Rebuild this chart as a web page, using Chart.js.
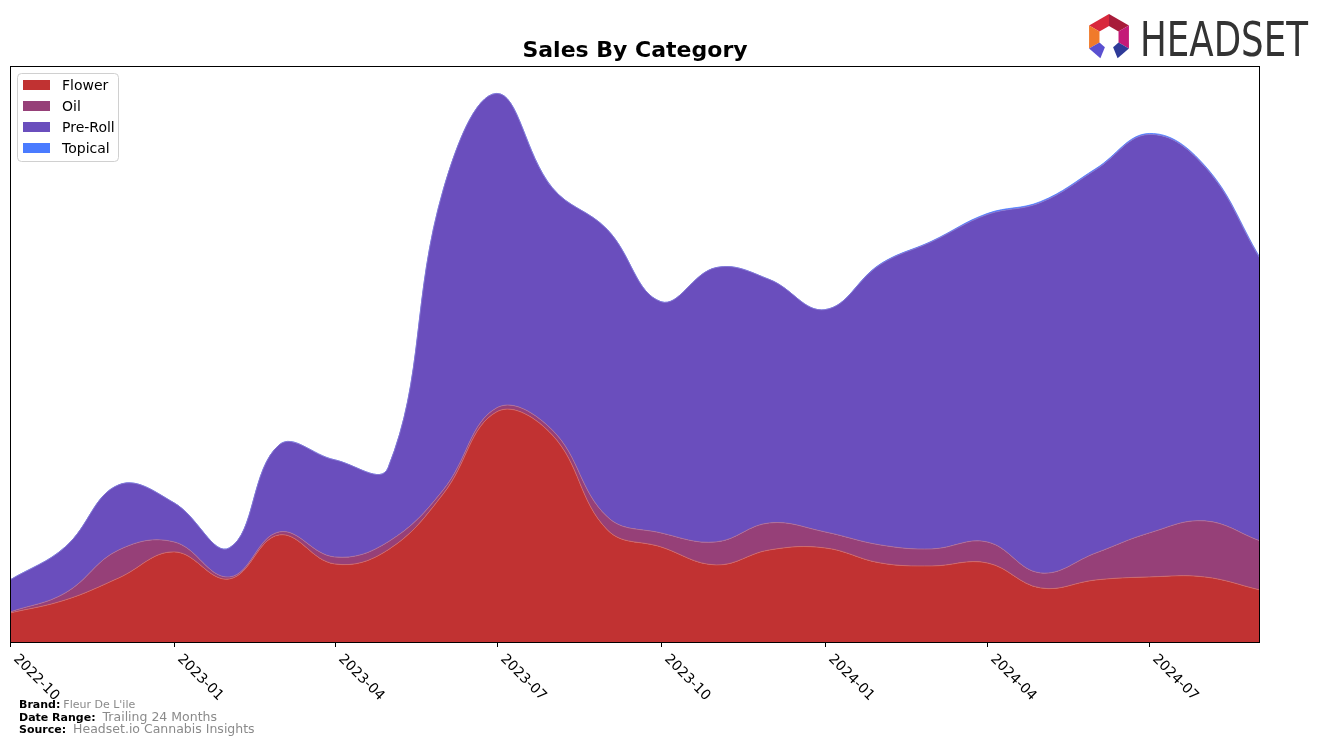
<!DOCTYPE html>
<html>
<head>
<meta charset="utf-8">
<script src="https://cdn.jsdelivr.net/npm/chart.js@4.4.0/dist/chart.umd.min.js"></script>
<style>
  html, body { margin: 0; padding: 0; background: #fff; }
  #wrap { width: 1324px; height: 745px; }
</style>
</head>
<body>
<div id="wrap"><canvas id="chart" width="1324" height="745"></canvas></div>
<script>
const months = [
  "2022-10", "2022-11", "2022-12", "2023-01", "2023-02", "2023-03",
  "2023-04", "2023-05", "2023-06", "2023-07", "2023-08", "2023-09",
  "2023-10", "2023-11", "2023-12", "2024-01", "2024-02", "2024-03",
  "2024-04", "2024-05", "2024-06", "2024-07", "2024-08", "2024-09",
];
const flower = [29, 42, 64, 90, 63, 107, 78, 92, 148, 230, 207, 112, 95, 77, 92, 94, 79, 76, 79, 54, 62, 65, 65, 52];
const oil = [1, 7, 28, 10, 2, 3, 7, 8, 4, 4, 5, 13, 14, 23, 27, 16, 18, 17, 21, 15, 27, 44, 56, 49];
const preRoll = [32, 46, 65, 39, 29, 87, 97, 74, 300, 314, 242, 287, 231, 274, 243, 222, 280, 307, 327, 370, 383, 398, 354, 282];
const topical = [0, 0, 0, 0, 0, 0, 0, 0, 0, 0, 0, 0, 0, 0, 0, 0, 0.5, 0.5, 1, 1, 1, 1, 1, 1];
const tickLabels = ["2022-10", "2023-01", "2023-04", "2023-07", "2023-10", "2024-01", "2024-04", "2024-07"];

const seriesNames = ["Flower", "Oil", "Pre-Roll", "Topical"];
const seriesColors = ["#c13232", "#964078", "#6a4ebd", "#4a7bff"];
const seriesEdges = ["#d06a6a", "#b07098", "#8a78d0", "#4a7bff"];

// month string -> day number, so the x axis spaces months like a date axis
const dayOf = (m) => {
  const [y, mo] = m.split("-").map(Number);
  return Date.UTC(y, mo - 1, 1) / 86400000;
};

const allSeries = [flower, oil, preRoll, topical];
const totals = months.map((_, i) => allSeries.reduce((s, arr) => s + arr[i], 0));

const datasets = allSeries.map((arr, k) => ({
  label: seriesNames[k],
  data: arr.map((v, i) => ({ x: dayOf(months[i]), y: v })),
  backgroundColor: seriesColors[k],
  borderColor: seriesEdges[k],
  borderWidth: 0.8,
  fill: k === 0 ? "origin" : "-1",
  pointRadius: 0,
  tension: 0.4,
}));

const FONT = '"DejaVu Sans", sans-serif';

const decor = {
  id: "decor",
  beforeDraw(chart) {
    const c = chart.ctx;
    c.save();
    c.fillStyle = "#fff";
    c.fillRect(0, 0, chart.width, chart.height);
    c.restore();
  },
  afterDraw(chart) {
    const c = chart.ctx;
    const a = chart.chartArea;
    const xs = chart.scales.x;
    c.save();

    // frame
    c.strokeStyle = "#000";
    c.lineWidth = 1;
    c.strokeRect(a.left + 0.5, a.top + 0.5, a.right - a.left - 1, a.bottom - a.top);

    // x ticks + rotated labels
    c.font = "14px " + FONT;
    c.fillStyle = "#000";
    tickLabels.forEach((t) => {
      const px = Math.round(xs.getPixelForValue(dayOf(t))) + 0.5;
      c.beginPath();
      c.moveTo(px, a.bottom);
      c.lineTo(px, a.bottom + 5);
      c.stroke();
      c.save();
      c.translate(px + 5, a.bottom + 15);
      c.rotate(Math.PI / 4);
      c.textAlign = "left";
      c.textBaseline = "middle";
      c.fillText(t, 0, 0);
      c.restore();
    });

    // title
    c.font = "bold 22px " + FONT;
    c.textAlign = "center";
    c.textBaseline = "middle";
    c.fillText("Sales By Category", (a.left + a.right) / 2, 51);

    // legend
    const lx = 17, ly = 73, lw = 101, lh = 88;
    c.beginPath();
    c.roundRect(lx + 0.5, ly + 0.5, lw, lh, 4);
    c.fillStyle = "rgba(255,255,255,0.85)";
    c.fill();
    c.strokeStyle = "#d0d0d0";
    c.stroke();
    c.font = "14px " + FONT;
    c.textAlign = "left";
    seriesNames.forEach((name, k) => {
      const cy = 85 + k * 21;
      c.fillStyle = seriesColors[k];
      c.fillRect(23, cy - 5, 27, 10);
      c.fillStyle = "#000";
      c.fillText(name, 62, cy + 1);
    });

    // footer
    const foot = [
      ["Brand:", "Fleur De L'ile", 708, 11],
      ["Date Range:", "Trailing 24 Months", 721, 12.5],
      ["Source:", "Headset.io Cannabis Insights", 733, 12.5],
    ];
    c.textBaseline = "alphabetic";
    foot.forEach(([lab, val, y, vs]) => {
      c.font = "bold 11px " + FONT;
      c.fillStyle = "#000";
      c.fillText(lab, 19, y);
      const w = c.measureText(lab).width;
      c.font = vs + "px " + FONT;
      c.fillStyle = "#8a8a8a";
      c.fillText(val, 19 + w + (vs > 11 ? 7 : 3), y);
    });

    // logo
    const cx = 1109, cy = 37, R = 23, r = 11;
    const pt = (ang, rad) => [cx + rad * Math.cos(ang * Math.PI / 180), cy + rad * Math.sin(ang * Math.PI / 180)];
    const seg = (a1, a2, col) => {
      const p = [pt(a1, R), pt(a2, R), pt(a2, r), pt(a1, r)];
      c.beginPath();
      c.moveTo(p[0][0], p[0][1]);
      p.slice(1).forEach((q) => c.lineTo(q[0], q[1]));
      c.closePath();
      c.fillStyle = col;
      c.fill();
    };
    seg(-150, -90, "#d8283c");
    seg(-90, -30, "#a81c3a");
    seg(-30, 30, "#c41a78");
    seg(150, 210, "#f07a2a");
    seg(150, 112, "#5a50d0");
    seg(68, 30, "#2e3a98");
    c.font = "48px " + FONT;
    c.fillStyle = "#333";
    c.textAlign = "left";
    c.fillText("HEADSET", 1140, 56, 168);

    c.restore();
  },
};

new Chart(document.getElementById("chart"), {
  type: "line",
  data: { datasets },
  options: {
    responsive: false,
    devicePixelRatio: 1,
    animation: false,
    layout: { padding: { left: 10, right: 64, top: 66, bottom: 103 } },
    plugins: { legend: { display: false }, title: { display: false }, tooltip: { enabled: false } },
    scales: {
      x: { type: "linear", display: false, min: dayOf(months[0]), max: dayOf(months[months.length - 1]) },
      y: { display: false, stacked: true, min: 0, max: Math.max(...totals) * 1.05 },
    },
  },
  plugins: [decor],
});
</script>
</body>
</html>
